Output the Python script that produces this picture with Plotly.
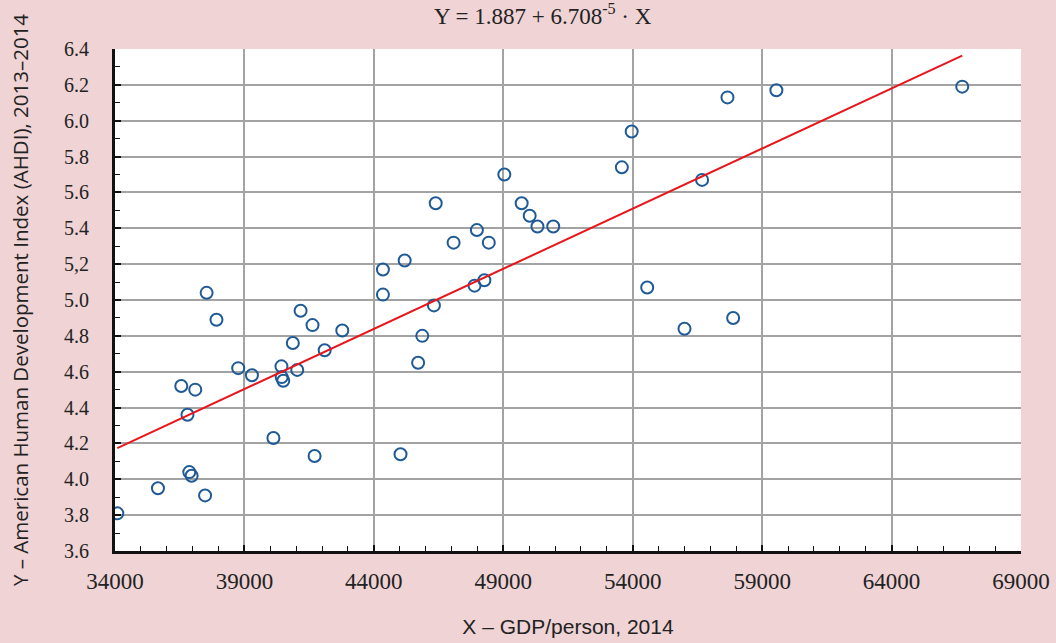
import plotly.graph_objects as go

# GDP per person, 2014 (X) and American Human Development Index 2013-2014 (Y)
gdp_per_person = [34090, 35660, 36560, 36800, 36870, 36960, 37100, 37540, 37480, 37920,
                  38760, 39290, 40120, 40430, 40440, 40500, 40870, 41040, 41170, 41630,
                  41710, 42100, 42780, 44350, 44350, 45190, 45030, 45710, 45870, 46320,
                  46390, 47080, 47890, 47980, 48270, 48440, 49040, 49710, 50020, 50320,
                  50930, 53960, 53580, 56680, 57660, 59550, 66730, 54560, 56000, 57880]
ahdi = [3.81, 3.95, 4.52, 4.36, 4.04, 4.02, 4.50, 5.04, 3.91, 4.89,
        4.62, 4.58, 4.23, 4.63, 4.57, 4.55, 4.76, 4.61, 4.94, 4.86,
        4.13, 4.72, 4.83, 5.17, 5.03, 5.22, 4.14, 4.65, 4.80, 4.97,
        5.54, 5.32, 5.08, 5.39, 5.11, 5.32, 5.70, 5.54, 5.47, 5.41,
        5.41, 5.94, 5.74, 5.67, 6.13, 6.17, 6.19, 5.07, 4.84, 4.90]

intercept = 1.887
slope = 6.708e-5

x_tick_vals = [34000, 39000, 44000, 49000, 54000, 59000, 64000, 69000]
y_tick_vals = [3.6, 3.8, 4.0, 4.2, 4.4, 4.6, 4.8, 5.0, 5.2, 5.4, 5.6, 5.8, 6.0, 6.2, 6.4]
y_tick_text = ["3.6", "3.8", "4.0", "4.2", "4.4", "4.6", "4.8", "5.0", "5,2", "5.4",
               "5.6", "5.8", "6.0", "6.2", "6.4"]

x_line = [min(gdp_per_person), max(gdp_per_person)]
y_line = [intercept + slope * v for v in x_line]

fig = go.Figure()
fig.add_trace(go.Scatter(
    x=gdp_per_person, y=ahdi, mode="markers",
    marker=dict(symbol="circle-open", size=12, color="#1f5a96", line=dict(width=2, color="#1f5a96")),
    showlegend=False, hoverinfo="x+y"))
fig.add_trace(go.Scatter(
    x=x_line, y=y_line, mode="lines",
    line=dict(color="#e8151b", width=2), showlegend=False))

serif = "Liberation Serif, Times New Roman, serif"

fig.update_layout(
    width=1056, height=643,
    paper_bgcolor="#efd3d5", plot_bgcolor="#ffffff",
    margin=dict(l=115, r=35, t=49, b=92, autoexpand=False),
    font=dict(family=serif, color="#222222"),
    annotations=[dict(
        text="Y = 1.887 + 6.708<sup>-5</sup> · X",
        x=0.472, y=1.068, xref="paper", yref="paper",
        xanchor="center", yanchor="middle", showarrow=False,
        font=dict(family=serif, size=23, color="#222222"))],
)
fig.update_xaxes(
    range=[34000, 69000], tickvals=x_tick_vals, tickformat="d",
    showgrid=True, gridcolor="#a3a3a3", gridwidth=2,
    showline=True, linecolor="#111111", linewidth=2.5,
    ticks="inside", ticklen=6, tickcolor="#111111", tickwidth=1.5,
    minor=dict(dtick=1000, ticks="inside", ticklen=5, tickcolor="#111111", tickwidth=1.2, showgrid=False),
    tickfont=dict(family=serif, size=23, color="#222222"),
    ticklabelstandoff=8, zeroline=False, automargin=False,
    title=dict(text="X – GDP/person, 2014", standoff=26,
               font=dict(family="Liberation Sans Narrow, Liberation Sans, sans-serif", size=21, color="#222222")),
)
fig.update_yaxes(
    range=[3.6, 6.4], tickvals=y_tick_vals, ticktext=y_tick_text,
    showgrid=True, gridcolor="#a3a3a3", gridwidth=2,
    showline=True, linecolor="#111111", linewidth=3,
    ticks="inside", ticklen=6, tickcolor="#111111", tickwidth=1.5,
    minor=dict(dtick=0.1, tick0=3.6, ticks="inside", ticklen=5, tickcolor="#111111", tickwidth=1.2, showgrid=False),
    tickfont=dict(family=serif, size=20, color="#222222"),
    ticklabelstandoff=19, zeroline=False, automargin=False,
    title=dict(text="Y – American Human Development Index (AHDI), 2013–2014", standoff=30,
               font=dict(family="Open Sans, sans-serif", size=20.5, color="#222222")),
)

fig.write_html("out.html", config={"displayModeBar": False},
               post_script="document.body.style.margin='0';document.body.style.padding='0';")
